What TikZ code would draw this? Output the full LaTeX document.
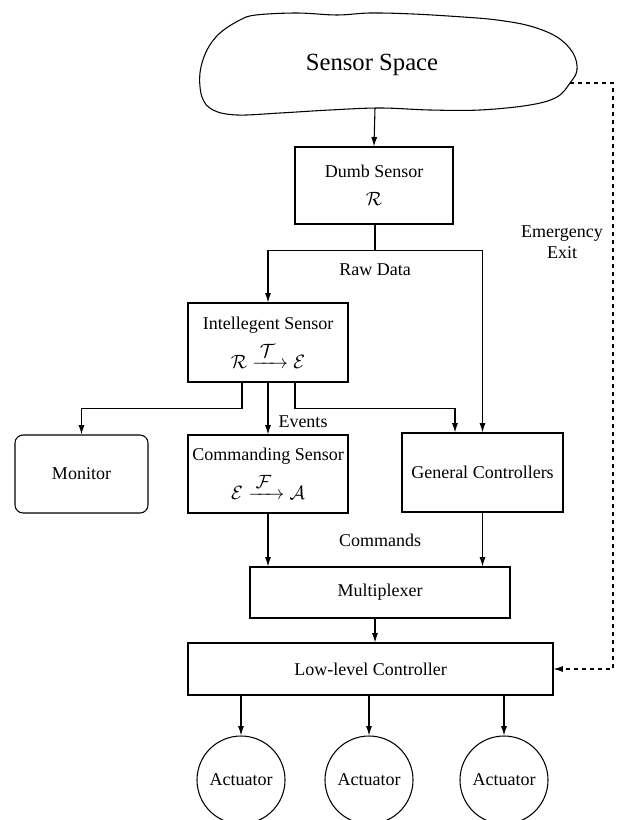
\documentclass[tikz,border=0pt]{standalone}
\usepackage{amsmath}
\usepackage{fontspec}
\setmainfont{Liberation Serif}
\usetikzlibrary{arrows.meta,calc}

\newcommand{\maparrow}[1]{\xrightarrow{\hphantom{i}\textstyle #1\hphantom{i}}}

\begin{document}
\begin{tikzpicture}[x=0.75pt, y=-0.75pt, line width=0.8pt,
  >={Latex[length=7pt,width=4.5pt]},
  every node/.style={font=\rmfamily\fontsize{13.5}{16}\selectfont},
  block/.style={draw, align=center, inner sep=0pt},
  actuator/.style={draw, circle, inner sep=0pt, minimum size=66pt}]
  \useasboundingbox (0,0) rectangle (617,820);

  % sensor space
  \draw plot[smooth cycle, tension=0.6] coordinates {
    (256,15) (297,13) (337,15) (370,13) (413,14) (463,17) (497,20) (530,26)
    (557,37) (573,53) (577,70) (570,83) (557,97) (530,105) (480,110) (430,110)
    (380,108) (330,110) (280,113) (237,115) (213,110) (202,97) (200,73)
    (207,50) (220,33) (240,20)};
  \node[font=\rmfamily\fontsize{18.5}{22}\selectfont] (space) at (372,65) {Sensor Space};
  \coordinate (spacebot) at (375,108);
  \coordinate (spaceexit) at (570,83);
  \coordinate (exitcorner) at (613,83);

  % sensors
  \node[block, minimum width=118.5pt, minimum height=57.75pt] (dumb) at (374,185.5)
    {Dumb Sensor\\[5pt] $\mathcal{R}$};
  \node[block, minimum width=120pt, minimum height=59.25pt] (intel) at (268,342.5)
    {Intellegent Sensor\\[6pt] $\mathcal{R}\maparrow{\mathcal{T}}\mathcal{E}$};
  \node[block, rounded corners=6pt, minimum width=99.75pt, minimum height=58.5pt] (monitor) at (81.5,474) {Monitor};
  \node[block, minimum width=120pt, minimum height=58.5pt] (cmd) at (268,474)
    {Commanding Sensor\\[6pt] $\mathcal{E}\maparrow{\mathcal{F}}\mathcal{A}$};
  \node[block, minimum width=120.75pt, minimum height=59.25pt] (gen) at (482.5,472.5) {General Controllers};

  % controllers
  \node[block, minimum width=195pt, minimum height=38.25pt] (mux) at (380,592.5) {Multiplexer};
  \node[block, minimum width=273.75pt, minimum height=39pt] (low) at (370.5,669) {Low-level Controller};
  \foreach \i/\x in {1/241,2/369,3/504}
    \node[actuator] (act\i) at (\x,780) {Actuator};

  % raw data
  \draw[->] (spacebot) -- (dumb.north);
  \coordinate (rawsplit) at ($(dumb.south)+(1,26)$);
  \draw[->] (dumb.south -| rawsplit) -- (rawsplit) -| (intel.north);
  \draw[->] (rawsplit) -| (gen.north);
  \node at (375,270) {Raw Data};

  % events
  \coordinate (evl) at ($(intel.south)+(-26,0)$);
  \coordinate (evr) at ($(intel.south)+(27,0)$);
  \draw[->] (evl) -- ++(0,26) -| (monitor.north);
  \draw[->] (intel.south) -- (cmd.north);
  \draw[->] (evr) -- ++(0,26) -| ($(gen.north)+(-27.5,0)$);
  \node at (303,422) {Events};

  % commands
  \draw[->] (cmd.south) -- (cmd.south |- mux.north);
  \draw[->] (gen.south) -- (gen.south |- mux.north);
  \node at (380,540) {Commands};
  \draw[->] ($(mux.south)+(-5,0)$) -- ($(mux.south |- low.north)+(-5,0)$);
  \foreach \i in {1,2,3}
    \draw[->] (act\i.north |- low.south) -- (act\i.north);

  % emergency exit
  \draw[dashed, ->] (spaceexit) -- (exitcorner) |- (low.east);
  \node[align=center] at (562,242) {Emergency\\Exit};
\end{tikzpicture}
\end{document}
